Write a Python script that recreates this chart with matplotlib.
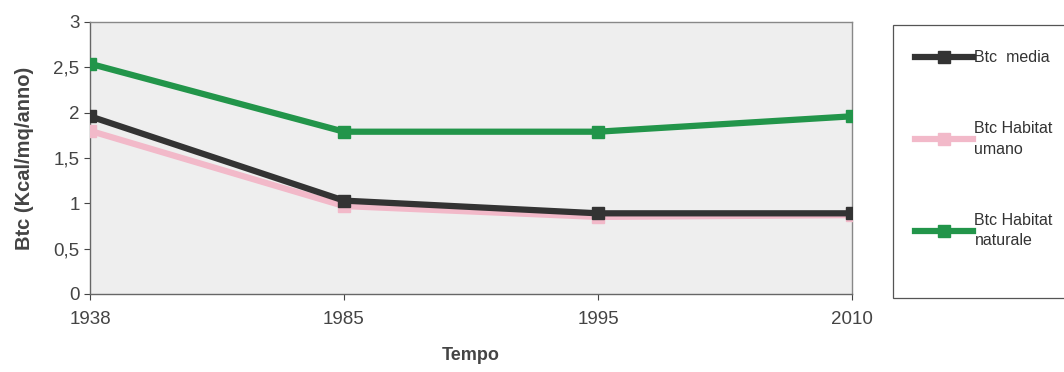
import matplotlib
matplotlib.use("Agg")
import matplotlib.pyplot as plt
from matplotlib.patches import Rectangle
from matplotlib.ticker import FuncFormatter

plt.rcParams["font.family"] = ["Liberation Sans", "DejaVu Sans"]

anni = ["1938", "1985", "1995", "2010"]
btc_media = [1.96, 1.03, 0.89, 0.89]
btc_umano = [1.80, 0.97, 0.85, 0.87]
btc_naturale = [2.54, 1.79, 1.79, 1.96]

W, H = 1064, 372
fig = plt.figure(figsize = (W / 100, H / 100), dpi = 100)
ax = fig.add_axes([90 / W, 1 - 294 / H, 762 / W, 272 / H])
ax.set_facecolor("#eeeeee")

x = list(range(len(anni)))
lw = 4.5
ms = 9
ax.plot(x, btc_umano, color = "#f2b9c9", lw = lw, marker = "s", ms = ms, label = "Btc Habitat\numano", zorder = 3)
ax.plot(x, btc_media, color = "#333333", lw = lw, marker = "s", ms = ms, label = "Btc  media", zorder = 4)
ax.plot(x, btc_naturale, color = "#22954a", lw = lw, marker = "s", ms = ms, label = "Btc Habitat\nnaturale", zorder = 5)

ax.set_xlim(0, len(anni) - 1)
ax.set_ylim(0, 3)
ax.set_xticks(x)
ax.set_xticklabels(anni)
ax.set_yticks([0, 0.5, 1, 1.5, 2, 2.5, 3])
ax.yaxis.set_major_formatter(FuncFormatter(lambda v, p: ("%g" % v).replace(".", ",")))
ax.tick_params(labelsize = 13.5, colors = "#444444", length = 4, width = 0.8)
ax.tick_params(axis = "x", pad = 8)
for s in ax.spines.values():
	s.set_color("#888888")
	s.set_linewidth(1.0)
ax.spines["left"].set_color("#666666")
ax.spines["bottom"].set_color("#666666")

ax.set_xlabel("Tempo", fontsize = 13, fontweight = "bold", color = "#444444", labelpad = 14)
ax.set_ylabel("Btc (Kcal/mq/anno)", fontsize = 14.5, fontweight = "bold", color = "#444444", labelpad = 14)

# legend frame drawn by hand, runs off the right edge
fig.patches.append(Rectangle((893 / W, 1 - 298 / H), 200 / W, 273 / H, transform = fig.transFigure,
	facecolor = "white", edgecolor = "#555555", lw = 0.9, zorder = 0))

h, l = ax.get_legend_handles_labels()
order = [1, 0, 2]
leg = fig.legend([h[i] for i in order], [l[i] for i in order],
	loc = "upper left", bbox_to_anchor = (893 / W, 1 - 28 / H),
	fontsize = 11.5, labelspacing = 3.5, handlelength = 3.6,
	handletextpad = 0.1, borderpad = 0.9, frameon = False)
for t in leg.get_texts():
	t.set_color("#333333")
	t.set_linespacing(1.45)

fig.savefig("out.png", dpi = 100)
